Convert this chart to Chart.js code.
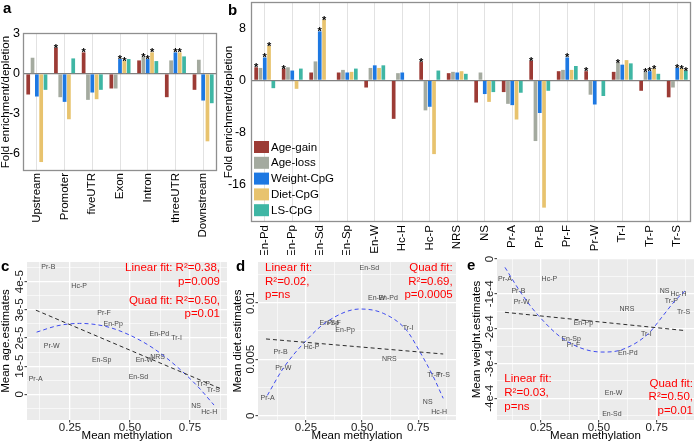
<!DOCTYPE html>
<html><head><meta charset="utf-8">
<script src="https://cdn.jsdelivr.net/npm/chart.js@4.4.1/dist/chart.umd.min.js"></script>
<style>
html,body{margin:0;padding:0;background:#fff;width:694px;height:445px;overflow:hidden;position:relative;font-family:'Liberation Sans',Arial,Helvetica,sans-serif}
canvas{position:absolute}
.lt{position:absolute;font-weight:bold;font-size:15px;line-height:15px;color:#000}
</style></head><body>
<canvas id="ca" width="232" height="252" style="left:0;top:0"></canvas>
<canvas id="cb" width="472" height="255" style="left:222px;top:0"></canvas>
<canvas id="cc" width="232" height="195" style="left:0;top:250px"></canvas>
<canvas id="cd" width="228" height="195" style="left:232px;top:250px"></canvas>
<canvas id="ce" width="234" height="195" style="left:460px;top:250px"></canvas>
<div class="lt" style="left:3px;top:0px">a</div>
<div class="lt" style="left:228px;top:2px">b</div>
<div class="lt" style="left:1px;top:258px">c</div>
<div class="lt" style="left:236px;top:258px">d</div>
<div class="lt" style="left:467px;top:257px">e</div>
<script>
// ---------------- DATA ----------------
const seriesNames = ['Age-gain','Age-loss','Weight-CpG','Diet-CpG','LS-CpG'];

// panel a: genomic regions
const regionCats = ['Upstream','Promoter','fiveUTR','Exon','Intron','threeUTR','Downstream'];
const regionAgeGain = [-1.55, 1.95, 1.6, -1.1, 1.0, -1.75, -1.2];
const regionAgeLoss = [1.2, -1.75, -1.95, -1.1, 1.25, 1.0, 1.05];
const regionWeight  = [-1.7, -2.1, -1.4, 1.1, 1.1, 1.6, -2.0];
const regionDiet    = [-6.6, -3.4, -1.9, 0.95, 1.6, 1.6, -5.05];
const regionLS      = [-1.2, 1.15, -1.2, 1.1, 0.95, 1.3, -2.2];
const regionSigAgeGain = [0,1,1,0,0,0,0];
const regionSigAgeLoss = [0,0,0,0,1,0,0];
const regionSigWeight  = [0,0,0,1,1,1,0];
const regionSigDiet    = [0,0,0,1,1,1,0];
const regionSigLS      = [0,0,0,0,0,0,0];
const regionTicks = [-6, -3, 0, 3];

// panel b: chromatin states
const stateCats = ['En-Pd','En-Pp','En-Sd','En-Sp','En-W','Hc-H','Hc-P','NRS','NS','Pr-A','Pr-B','Pr-F','Pr-W','Tr-I','Tr-P','Tr-S'];
const stateAgeGain = [2.0, 1.8, 1.2, 1.2, -1.1, -5.9, 2.8, 1.1, -3.4, -1.8, 3.0, 1.4, 1.4, 1.3, -1.6, -2.6];
const stateAgeLoss = [1.9, 2.0, 2.9, 1.6, 1.9, 1.1, -4.6, 1.3, 1.2, -3.6, -9.3, 1.6, -2.2, 2.7, 1.3, -1.1];
const stateWeight  = [3.5, 1.5, 7.5, 1.2, 2.3, 1.2, -4.05, 1.2, -2.1, -3.8, -5.0, 3.5, -3.7, 2.4, 1.4, 1.9];
const stateDiet    = [5.3, -1.3, 9.3, 1.3, 1.9, 0, -11.3, 1.4, -3.3, -6.0, -19.5, 1.6, 0, 3.1, 1.8, 1.8];
const stateLS      = [-1.2, 1.8, 0, 1.8, 2.3, 0, 1.5, 1.0, -1.8, -1.9, -1.6, 2.2, -2.4, 2.6, 1.0, 1.5];
const stateSigAgeGain = [1,1,0,0,0,0,1,0,0,0,1,0,1,0,0,0];
const stateSigAgeLoss = [0,0,0,0,0,0,0,0,0,0,0,0,0,1,1,0];
const stateSigWeight  = [1,0,1,0,0,0,0,0,0,0,0,1,0,0,1,1];
const stateSigDiet    = [1,0,1,0,0,0,0,0,0,0,0,0,0,0,1,1];
const stateSigLS      = [0,0,0,0,0,0,0,0,0,0,0,0,0,0,0,1];
const stateTicks = [-16, -8, 0, 8];

// panel c: age estimates vs mean methylation
const ageStates = ['Pr-B','Hc-P','Pr-F','En-Pp','En-Pd','Tr-I','Pr-W','NRS','En-Sp','En-W','En-Sd','Pr-A','Tr-P','Tr-S','NS','Hc-H'];
const ageMeth   = [0.160,0.288,0.392,0.430,0.622,0.694,0.174,0.615,0.382,0.560,0.535,0.107,0.805,0.847,0.775,0.830];
const ageEst    = [4.51e-5,3.85e-5,2.90e-5,2.49e-5,2.13e-5,1.99e-5,1.73e-5,1.34e-5,1.22e-5,1.22e-5,0.63e-5,0.54e-5,0.37e-5,0.15e-5,-0.42e-5,-0.64e-5];
const ageLinX   = [0.108, 0.875];
const ageLinY   = [2.99e-5, 0.21e-5];
const ageQuadX  = [0.111, 0.20, 0.29, 0.40, 0.50, 0.60, 0.70, 0.78, 0.85];
const ageQuadY  = [2.21e-5, 2.44e-5, 2.52e-5, 2.41e-5, 2.10e-5, 1.62e-5, 0.95e-5, 0.30e-5, -0.38e-5];
const ageYTicks = [0, 1e-5, 2e-5, 3e-5, 4e-5];
const ageYTickLabels = ['0','1e-5','2e-5','3e-5','4e-5'];

// panel d: diet estimates
const dietStates = ['En-Sd','En-W','En-Pd','En-Sp','Pr-F','En-Pp','Tr-I','Pr-B','Hc-P','NRS','Pr-W','Tr-P','Tr-S','Pr-A','NS','Hc-H'];
const dietMeth   = [0.532,0.565,0.616,0.354,0.375,0.424,0.705,0.137,0.275,0.621,0.149,0.820,0.861,0.079,0.792,0.843];
const dietEst    = [0.01310,0.01039,0.01039,0.00823,0.00823,0.00758,0.00773,0.00561,0.00610,0.00502,0.00419,0.00360,0.00360,0.00154,0.00119,0.00035];
const dietLinX   = [0.072, 0.861];
const dietLinY   = [0.00679, 0.00546];
const dietQuadX  = [0.078, 0.149, 0.253, 0.342, 0.490, 0.594, 0.697, 0.757, 0.817, 0.861];
const dietQuadY  = [0.0018, 0.0042, 0.0067, 0.0083, 0.00944, 0.00906, 0.00758, 0.00566, 0.00345, 0.00154];
const dietYTicks = [0, 0.005, 0.01];
const dietYTickLabels = ['0','0.005','0.01'];

// panel e: weight estimates
const weightStates = ['Pr-A','Hc-P','Pr-B','Pr-W','NS','Hc-H','Tr-P','Tr-S','NRS','En-Pp','Tr-I','En-Sp','Pr-F','En-Pd','En-W','En-Sd'];
const weightMeth   = [0.094,0.286,0.152,0.166,0.784,0.844,0.813,0.866,0.621,0.433,0.705,0.380,0.390,0.625,0.563,0.556];
const weightEst    = [-0.57e-4,-0.57e-4,-0.93e-4,-1.25e-4,-0.91e-4,-1.0e-4,-1.22e-4,-1.53e-4,-1.43e-4,-1.83e-4,-2.16e-4,-2.29e-4,-2.46e-4,-2.70e-4,-3.86e-4,-4.46e-4];
const weightLinX   = [0.094, 0.866];
const weightLinY   = [-1.53e-4, -2.05e-4];
const weightQuadX  = [0.094, 0.166, 0.238, 0.354, 0.513, 0.600, 0.714, 0.772, 0.830, 0.873];
const weightQuadY  = [-0.24e-4, -1.0e-4, -1.62e-4, -2.33e-4, -2.67e-4, -2.60e-4, -2.14e-4, -1.67e-4, -1.19e-4, -0.91e-4];
const weightYTicks = [-4e-4, -3e-4, -2e-4, -1e-4, 0];
const weightYTickLabels = ['-4e-4','-3e-4','-2e-4','-1e-4','0'];

const methTicks = [0.25, 0.5, 0.75];
const methTickLabels = ['0.25','0.50','0.75'];

// ---------------- STYLE / DRAWING ----------------
const FONT = "'Liberation Sans', Arial, Helvetica, sans-serif";
Chart.defaults.font.family = FONT;
Chart.defaults.color = '#000';
const seriesColors = ['#9c3b35','#a4aa9f','#1d78e2','#e8c36e','#3fb6a4'];

function framePlugin(color){
  return {id:'frame', afterDatasetsDraw(c){
    const a=c.chartArea, x=c.ctx; x.save(); x.strokeStyle=color; x.lineWidth=1.3;
    x.strokeRect(Math.round(a.left)+0.5, Math.round(a.top)+0.5, Math.round(a.right-a.left)-1, Math.round(a.bottom-a.top)-1);
    x.restore();
  }};
}
const starPlugin = {id:'stars', afterDatasetsDraw(c){
  const ctx=c.ctx; ctx.save(); ctx.fillStyle='#000'; ctx.font='bold 11px '+FONT;
  ctx.textAlign='center'; ctx.textBaseline='alphabetic';
  c.data.datasets.forEach((ds,i)=>{
    const meta=c.getDatasetMeta(i);
    ds.sig.forEach((s,j)=>{ if(!s) return; const el=meta.data[j]; const top=Math.min(el.y, el.base); ctx.fillText('*', el.x, top+4); });
  });
  ctx.restore();
}};
const legendPlugin = {id:'blegend', afterDatasetsDraw(c){
  const a=c.chartArea, ctx=c.ctx; ctx.save(); ctx.font='11.5px '+FONT; ctx.textBaseline='middle';
  c.data.datasets.forEach((ds,i)=>{
    const cy=a.bottom-75+i*15.8;
    ctx.fillStyle=ds.backgroundColor; ctx.fillRect(a.left+3, cy-6, 15, 12);
    ctx.fillStyle='#000'; ctx.fillText(ds.label, a.left+20, cy+0.5);
  });
  ctx.restore();
}};

function barChart(id, cats, vals, sigs, ticks, cfg){
  return new Chart(document.getElementById(id), {
    type:'bar',
    data:{labels:cats, datasets: seriesNames.map((n,i)=>({label:n, data:vals[i], sig:sigs[i], backgroundColor:seriesColors[i], borderWidth:0, categoryPercentage:0.78, barPercentage:0.86}))},
    options:{responsive:false, animation:false, devicePixelRatio:1,
      layout:{padding:{top:cfg.padTop, right:cfg.padRight, left:0, bottom:0}},
      plugins:{legend:{display:false}, tooltip:{enabled:false}},
      scales:{
        x:{ grid:{offset:false, color:'#e2e2e2', lineWidth:1, drawTicks:false}, border:{display:false},
            ticks:{maxRotation:90, minRotation:90, autoSkip:false, font:{size:cfg.xFont}, color:'#000', padding:cfg.xPad},
            afterFit: s=>{ s.height=cfg.xH; s.paddingLeft=0; s.paddingRight=0; } },
        y:{ min:cfg.min, max:cfg.max,
            afterBuildTicks: s=>{ s.ticks = ticks.map(v=>({value:v})); },
            ticks:{font:{size:12.5}, color:'#000', padding:cfg.yPad, callback:v=>String(v)},
            grid:{color: ctx => (ctx.tick && ctx.tick.value===0) ? '#808080' : 'rgba(0,0,0,0)', lineWidth:1.2, drawTicks:false},
            border:{display:false},
            title:{display:true, text:'Fold enrichment/depletion', font:{size:11.5, lineHeight:1.1}, color:'#000', padding:{top:cfg.titlePad, bottom:0}},
            afterFit: s=>{ s.width=cfg.yW; s.paddingTop=0; s.paddingBottom=0; } }
      }
    },
    plugins: cfg.legend ? [framePlugin('#8f8f8f'), starPlugin, legendPlugin] : [framePlugin('#8f8f8f'), starPlugin]
  });
}

barChart('ca', regionCats,
  [regionAgeGain, regionAgeLoss, regionWeight, regionDiet, regionLS],
  [regionSigAgeGain, regionSigAgeLoss, regionSigWeight, regionSigDiet, regionSigLS],
  regionTicks,
  {padTop:33, padRight:15, xH:81, yW:23, min:-7.27, max:3.05, xFont:11.5, xPad:2, yPad:3, titlePad:0, legend:false});

barChart('cb', stateCats,
  [stateAgeGain, stateAgeLoss, stateWeight, stateDiet, stateLS],
  [stateSigAgeGain, stateSigAgeLoss, stateSigWeight, stateSigDiet, stateSigLS],
  stateTicks,
  {padTop:2, padRight:3, xH:33, yW:29, min:-21.7, max:12.0, xFont:11.5, xPad:3, yPad:5, titlePad:1, legend:true});

function scatterChart(id, p){
  const xr = p.xmax-p.xmin, yr = p.ymax-p.ymin;
  const xMinor = [0.125,0.375,0.625,0.875].filter(v=>v>p.xmin && v<p.xmax);
  const ys = p.yTicks, yStep = ys[1]-ys[0];
  const yMinor = [];
  for (let k=-1;k<ys.length;k++){ const v = ys[0]+(k+0.5)*yStep; if (v>p.ymin && v<p.ymax) yMinor.push(v); }
  const isXMaj = v => methTicks.some(t=>Math.abs(t-v)<xr*1e-6);
  const isYMaj = v => ys.some(t=>Math.abs(t-v)<yr*1e-6);
  const grid = (isMaj) => ({color:'#ffffff', lineWidth: c=> (c.tick && isMaj(c.tick.value)) ? 1.3 : 0.6,
      tickLength:2.5, tickWidth:1, tickColor: c=> (c.tick && isMaj(c.tick.value)) ? '#333' : 'rgba(0,0,0,0)'});
  const plug = {id:'sc',
    beforeDraw(c){ const a=c.chartArea; c.ctx.save(); c.ctx.fillStyle='#ebebeb'; c.ctx.fillRect(a.left,a.top,a.right-a.left,a.bottom-a.top); c.ctx.restore(); },
    beforeDatasetsDraw(c){
      const ctx=c.ctx, meta=c.getDatasetMeta(0); ctx.save();
      ctx.font='7px '+FONT; ctx.fillStyle='#4a4a4a'; ctx.textAlign='center'; ctx.textBaseline='middle';
      meta.data.forEach((el,j)=>ctx.fillText(p.names[j], el.x, el.y));
      ctx.restore();
    },
    afterDraw(c){
      const ctx=c.ctx, a=c.chartArea, sy=c.scales.y; ctx.save();
      ctx.font='11.5px '+FONT; ctx.fillStyle='#1a1a1a'; ctx.textAlign='center'; ctx.textBaseline='middle';
      ys.forEach((v,k)=>{ const py=sy.getPixelForValue(v); ctx.save(); ctx.translate(a.left-7, py); ctx.rotate(-Math.PI/2); ctx.fillText(p.yLabels[k],0,0); ctx.restore(); });
      ctx.font='11.5px '+FONT; ctx.fillStyle='#ff0000';
      p.notes.forEach(n=>{ ctx.textAlign=n.align; const x = n.align==='left' ? a.left+n.dx : a.right-n.dx; n.lines.forEach((t,k)=>ctx.fillText(t, x, n.ys[k])); });
      ctx.restore();
    }
  };
  return new Chart(document.getElementById(id), {
    type:'scatter',
    data:{datasets:[
      {data:p.x.map((v,j)=>({x:v, y:p.y[j]})), pointRadius:0, showLine:false},
      {data:p.linX.map((v,j)=>({x:v, y:p.linY[j]})), showLine:true, pointRadius:0, borderColor:'#2b2b2b', borderWidth:1, borderDash:[4,3]},
      {data:p.quadX.map((v,j)=>({x:v, y:p.quadY[j]})), showLine:true, pointRadius:0, borderColor:'#3f4cf0', borderWidth:1, borderDash:[4,3], cubicInterpolationMode:'monotone'}
    ]},
    options:{responsive:false, animation:false, devicePixelRatio:1,
      layout:{padding:{top:p.padTop, right:p.padRight, left:0, bottom:0}},
      plugins:{legend:{display:false}, tooltip:{enabled:false}},
      scales:{
        x:{type:'linear', min:p.xmin, max:p.xmax,
           afterBuildTicks: s=>{ s.ticks = methTicks.concat(xMinor).sort((a,b)=>a-b).map(v=>({value:v})); },
           ticks:{autoSkip:false, maxRotation:0, minRotation:0, padding:0, font:{size:11.5, lineHeight:1}, color:'#1a1a1a',
                  callback: v => { const k = methTicks.findIndex(t=>Math.abs(t-v)<xr*1e-6); return k>=0 ? methTickLabels[k] : ''; }},
           grid: grid(isXMaj), border:{display:false},
           title:{display:true, text:'Mean methylation', font:{size:11.5, lineHeight:1}, color:'#000', padding:{top:0, bottom:3.5}},
           afterFit: s=>{ s.height=25; s.paddingLeft=0; s.paddingRight=0; }},
        y:{type:'linear', min:p.ymin, max:p.ymax,
           afterBuildTicks: s=>{ s.ticks = ys.concat(yMinor).sort((a,b)=>a-b).map(v=>({value:v})); },
           ticks:{display:false},
           grid: grid(isYMaj), border:{display:false},
           title:{display:true, text:p.yTitle, font:{size:11.5, lineHeight:1}, color:'#000', padding:{top:p.titlePad, bottom:0}},
           afterFit: s=>{ s.width=p.yW; s.paddingTop=0; s.paddingBottom=0; }}
      }
    },
    plugins:[plug]
  });
}

scatterChart('cc', {names:ageStates, x:ageMeth, y:ageEst, linX:ageLinX, linY:ageLinY, quadX:ageQuadX, quadY:ageQuadY,
  xmin:0.071, xmax:0.904, ymin:-0.91e-5, ymax:4.70e-5, yTicks:ageYTicks, yLabels:ageYTickLabels,
  yTitle:'Mean age.estimates', padTop:12, padRight:5, yW:27, titlePad:0,
  notes:[{align:'right', dx:7, lines:['Linear fit: R\u00b2=0.38,','p=0.009','Quad fit: R\u00b2=0.50,','p=0.01'], ys:[18,32,50.7,64]}]});

scatterChart('cd', {names:dietStates, x:dietMeth, y:dietEst, linX:dietLinX, linY:dietLinY, quadX:dietQuadX, quadY:dietQuadY,
  xmin:0.0364, xmax:0.918, ymin:-0.00038, ymax:0.0136, yTicks:dietYTicks, yLabels:dietYTickLabels,
  yTitle:'Mean diet.estimates', padTop:12, padRight:4, yW:26, titlePad:0,
  notes:[{align:'left', dx:7, lines:['Linear fit:','R\u00b2=0.02,','p=ns'], ys:[17.7,31.7,45]},
         {align:'right', dx:3.3, lines:['Quad fit:','R\u00b2=0.69,','p=0.0005'], ys:[17.7,31.7,45]}]});

scatterChart('ce', {names:weightStates, x:weightMeth, y:weightEst, linX:weightLinX, linY:weightLinY, quadX:weightQuadX, quadY:weightQuadY,
  xmin:0.0595, xmax:0.911, ymin:-4.62e-4, ymax:0, yTicks:weightYTicks, yLabels:weightYTickLabels,
  yTitle:'Mean weight.estimates', padTop:9, padRight:0, yW:37, titlePad:11,
  notes:[{align:'left', dx:7.3, lines:['Linear fit:','R\u00b2=0.03,','p=ns'], ys:[129.3,143.3,156.7]},
         {align:'right', dx:1, lines:['Quad fit:','R\u00b2=0.50,','p=0.01'], ys:[134,147.3,160.7]}]});
</script>
</body></html>
